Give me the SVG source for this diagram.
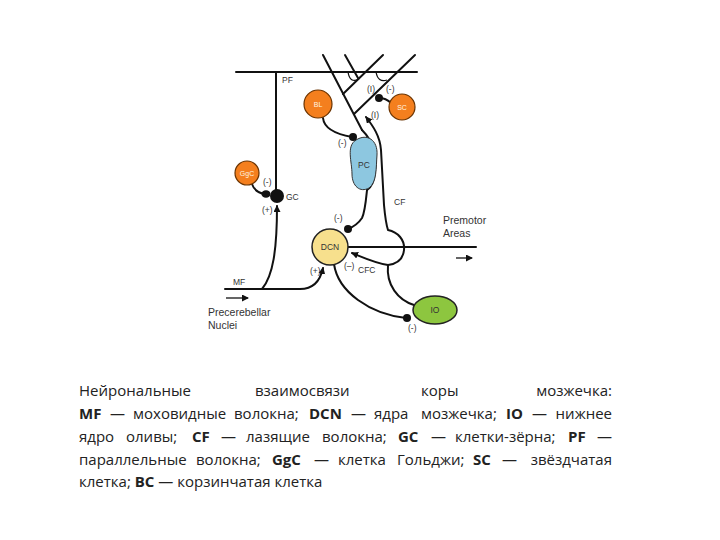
<svg xmlns="http://www.w3.org/2000/svg" width="720" height="540" viewBox="0 0 720 540">
<style>
.ln{fill:none;stroke:#111;stroke-width:2;stroke-linecap:round}
.thin{fill:none;stroke:#111;stroke-width:1.3}
.lb{font-family:"Liberation Sans",Arial,sans-serif;font-size:8.5px;fill:#333}
.lb2{font-family:"Liberation Sans",Arial,sans-serif;font-size:10.5px;fill:#333}
.inl{font-family:"Liberation Sans",Arial,sans-serif;font-size:7px;fill:#fff4e0;text-anchor:middle}
.inl2{font-family:"Liberation Sans",Arial,sans-serif;font-size:8.5px;fill:#333;text-anchor:middle}
.org{fill:#f47f1e;stroke:#6a3300;stroke-width:1.2}
.dot{fill:#111}
.cap{font-family:"Open Sans","Noto Sans","DejaVu Sans",sans-serif;font-size:15px;fill:#222}
.b{font-weight:bold}
</style>
<defs>
<marker id="ah" markerUnits="userSpaceOnUse" markerWidth="8" markerHeight="8" refX="6" refY="3.5" orient="auto-start-reverse"><path d="M0,0 L7,3.5 L0,7 z" fill="#111"/></marker>
</defs>
<rect width="720" height="540" fill="#fff"/>

<g id="connectors">
<path class="ln" d="M236,72 H417"/>
<path class="ln" d="M276,72 V197"/>
<path class="ln" d="M323,55 L362,130"/>
<path class="ln" d="M345,55 L358,78"/>
<path class="ln" d="M383,55 L343,94"/>
<path class="ln" d="M415,55 L354,114"/>
<path class="thin" d="M348,72 Q350,84 359,79"/>
<path class="thin" d="M376,72 Q378,83 387,80"/>
<path class="ln" d="M362,130 C372,140 377,155 375,172 C374,182 371,188 367,190"/>
<path class="ln" d="M366,117 C373,126 380,136 381,150 L384,205 C385,216 386,224 388,230 C398,232 405,240 404,250 C403,260 396,264 388,265" marker-start="url(#ah)"/>
<path class="ln" d="M388,265 C375,263 362,257 352,253" marker-end="url(#ah)"/>
<path class="ln" d="M388,265 C386,285 398,300 414,305"/>
<path class="ln" d="M367,190 C366,200 365,212 362,218 C358,224 353,227 348,229"/>
<path class="ln" d="M348,247 H476"/>
<path class="ln" d="M334,264 C338,292 370,314 406,318"/>
<path class="ln" d="M225,289 H300 C312,289 320,282 323,268" marker-end="url(#ah)"/>
<path class="ln" d="M262,289 C273,276 277,250 277,206" marker-end="url(#ah)"/>
<path class="ln" d="M323,118 C324,128 335,134 352,137"/>
<path class="ln" d="M391,103 C388,100 384,98 379,98"/>
<path class="ln" d="M252,184 C254,190 258,193 265,194"/>
<path class="thin" d="M226,298 H248" marker-end="url(#ah)"/>
<path class="thin" d="M456,258 H472" marker-end="url(#ah)"/>
</g>

<g id="PC"><path d="M356,140 C367,133 378,140 377,155 C376,168 377,182 369,188 C360,193 352,186 352,174 C352,162 346,146 356,140 Z" fill="#8dc7e0" stroke="#333" stroke-width="1"/><text class="inl2" x="364" y="168" font-size="7.5">PC</text></g>
<g id="BL"><circle class="org" cx="318" cy="104" r="14"/><text class="inl" x="318" y="107">BL</text></g>
<g id="SC"><circle class="org" cx="402" cy="107" r="13"/><text class="inl" x="402" y="110">SC</text></g>
<g id="GgC"><circle class="org" cx="247" cy="173" r="12"/><text class="inl" x="247" y="176" font-size="6.5">GgC</text></g>
<g id="GC"><circle class="dot" cx="277" cy="196" r="7"/><ellipse class="dot" cx="266" cy="194" rx="4.5" ry="3.8"/><text class="lb" x="286" y="200">GC</text></g>
<g id="DCN"><circle cx="330" cy="247" r="18" fill="#f7e08d" stroke="#222" stroke-width="1.5"/><text class="inl2" x="330" y="250">DCN</text></g>
<g id="IO"><ellipse cx="435" cy="310" rx="22" ry="14" fill="#8dc63f" stroke="#222" stroke-width="1.5"/><text class="inl2" x="435" y="313">IO</text></g>
<g id="dots">
<circle class="dot" cx="353" cy="137" r="4"/>
<circle class="dot" cx="379" cy="98" r="4"/>
<circle class="dot" cx="348" cy="229" r="4"/>
<circle class="dot" cx="407" cy="318" r="4"/>
</g>

<g id="labels">
<text class="lb" x="282" y="83">PF</text>
<text class="lb" x="367" y="92">(I)</text>
<text class="lb" x="386" y="92">(-)</text>
<text class="lb" x="371" y="118">(I)</text>
<text class="lb" x="338" y="146">(-)</text>
<text class="lb" x="263" y="185">(-)</text>
<text class="lb" x="262" y="213">(+)</text>
<text class="lb" x="394" y="205">CF</text>
<text class="lb" x="334" y="221">(-)</text>
<text class="lb" x="310" y="274">(+)</text>
<text class="lb" x="344" y="269">(–)</text>
<text class="lb" x="358" y="273">CFC</text>
<text class="lb" x="233" y="285">MF</text>
<text class="lb" x="408" y="331">(-)</text>
<text class="lb2" x="443" y="224">Premotor</text>
<text class="lb2" x="443" y="237">Areas</text>
<text class="lb2" x="208" y="316">Precerebellar</text>
<text class="lb2" x="208" y="329">Nuclei</text>
</g>

<g id="caption">
<text class="cap" y="396"><tspan x="79">Нейрональные</tspan><tspan x="255">взаимосвязи</tspan><tspan x="421">коры</tspan></text>
<text class="cap" y="396" x="612" text-anchor="end">мозжечка:</text>
<text class="cap" y="419"><tspan x="79" class="b">MF</tspan><tspan x="110">—</tspan><tspan x="133">моховидные</tspan><tspan x="234">волокна;</tspan><tspan x="309" class="b">DCN</tspan><tspan x="351">—</tspan><tspan x="374">ядра</tspan><tspan x="421">мозжечка;</tspan><tspan x="506" class="b">IO</tspan><tspan x="532">—</tspan></text>
<text class="cap" y="419" x="612" text-anchor="end">нижнее</text>
<text class="cap" y="442"><tspan x="79">ядро</tspan><tspan x="126">оливы;</tspan><tspan x="192" class="b">CF</tspan><tspan x="221">—</tspan><tspan x="246">лазящие</tspan><tspan x="322">волокна;</tspan><tspan x="398" class="b">GC</tspan><tspan x="431">—</tspan><tspan x="455">клетки-зёрна;</tspan><tspan x="568" class="b">PF</tspan></text>
<text class="cap" y="442" x="612" text-anchor="end">—</text>
<text class="cap" y="465"><tspan x="79">параллельные</tspan><tspan x="196">волокна;</tspan><tspan x="272" class="b">GgC</tspan><tspan x="314">—</tspan><tspan x="338">клетка</tspan><tspan x="397">Гольджи;</tspan><tspan x="473" class="b">SC</tspan><tspan x="502">—</tspan></text>
<text class="cap" y="465" x="612" text-anchor="end">звёздчатая</text>
<text class="cap" x="79" y="487">клетка; <tspan class="b">BC</tspan> — корзинчатая клетка</text>
</g>
</svg>
